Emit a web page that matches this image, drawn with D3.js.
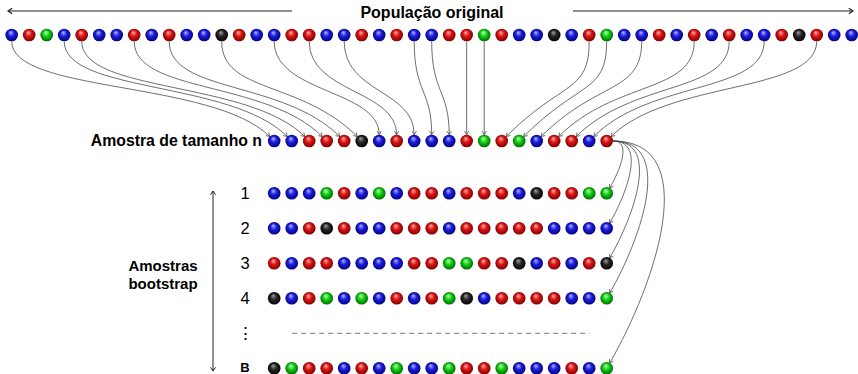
<!DOCTYPE html>
<html>
<head>
<meta charset="utf-8">
<script src="https://cdn.jsdelivr.net/npm/d3@7"></script>
<style>
  html, body { margin: 0; padding: 0; background: #fff; }
  svg { display: block; }
  text { font-family: "Liberation Sans", Arial, Helvetica, sans-serif; }
</style>
</head>
<body>
<svg id="chart" width="858" height="374"></svg>
<script>
// ---------- data ----------
const population = ["B","R","G","B","R","B","B","R","B","R","B","B","K","R","B","B","R","R","B","B",
                    "R","B","R","B","B","R","R","G","R","B","B","K","B","R","G","B","B","R","B","R",
                    "B","R","B","B","R","K","R","B","B"];
// indices into population drawn into the sample of size n
const sampleIdx = [0,3,4,7,9,12,15,17,19,23,24,26,27,33,34,36,39,41,43,46];
const bootRows = [
  ["B","B","B","G","R","B","G","B","R","R","B","R","R","R","B","K","R","R","G","G"],
  ["B","B","R","K","R","B","B","R","R","R","B","R","R","R","R","R","B","B","B","B"],
  ["R","B","R","R","B","B","B","B","R","R","G","G","R","R","K","B","R","B","R","K"],
  ["K","B","R","G","B","G","B","R","B","R","G","K","B","R","R","R","R","B","B","G"],
  null,
  ["K","G","R","R","B","R","B","G","B","B","G","R","R","G","B","B","B","R","B","G"]
];
const rowLabels = ["1","2","3","4","⋮","B"];
const titleTop = "População original";
const sampleLabel = "Amostra de tamanho n";
const bootLabel = ["Amostras", "bootstrap"];

// ---------- layout ----------
const svg = d3.select("#chart");
const R = 6.3;
const xCol = d3.scaleLinear().domain([0, population.length - 1]).range([11.7, 851.7]);
const sampleOffset = 15;           // sample column j sits at population column j+15
const yPop = 35, ySample = 141;
const yRow = d3.scaleLinear().domain([0, 5]).range([193.3, 368.3]);

const palette = {
  B: ["#b4b8ff", "#1c1ce0", "#00006e"],
  R: ["#ffb0b0", "#de1414", "#6e0000"],
  G: ["#c4ffc4", "#12d212", "#005a00"],
  K: ["#a0a0a0", "#262626", "#000000"]
};
const defs = svg.append("defs");
Object.entries(palette).forEach(([k, c]) => {
  const g = defs.append("radialGradient").attr("id", "ball-" + k)
    .attr("cx", "50%").attr("cy", "50%").attr("r", "55%")
    .attr("fx", "42%").attr("fy", "28%");
  g.append("stop").attr("offset", "0%").attr("stop-color", c[0]);
  g.append("stop").attr("offset", "45%").attr("stop-color", c[1]);
  g.append("stop").attr("offset", "100%").attr("stop-color", c[2]);
});

const lineCol = "#4a4a4a";
const curves = svg.append("g").attr("fill", "none").attr("stroke", lineCol).attr("stroke-width", 0.8);

function arrowHead(g, x, y, ang, len = 4.2, spread = 0.55) {
  const p = d3.path();
  p.moveTo(x - len * Math.cos(ang - spread), y - len * Math.sin(ang - spread));
  p.lineTo(x, y);
  p.lineTo(x - len * Math.cos(ang + spread), y - len * Math.sin(ang + spread));
  g.append("path").attr("d", p.toString());
}

// ---------- population -> sample curves ----------
sampleIdx.forEach((pi, j) => {
  const xs = xCol(pi), ys = yPop + R;
  const xt = xCol(j + sampleOffset);
  const dx = xt - xs;
  let dirx, diry;
  if (dx > 120) { dirx = Math.SQRT1_2; diry = Math.SQRT1_2; }
  else if (dx < -40) { dirx = -Math.SQRT1_2; diry = Math.SQRT1_2; }
  else { dirx = 0; diry = 1; }
  const ex = xt - dirx * R, ey = ySample - diry * R;
  const p = d3.path();
  p.moveTo(xs, ys);
  if (Math.abs(dx) < 1) {
    p.lineTo(ex, ey);
  } else {
    const c2 = diry === 1 ? 45 : 80;
    p.bezierCurveTo(xs, ys + 52, ex - dirx * c2, ey - diry * c2, ex, ey);
  }
  curves.append("path").attr("d", p.toString());
  arrowHead(curves, ex, ey, Math.atan2(diry, dirx));
});

// ---------- sample -> bootstrap curves ----------
const lastX = xCol(sampleIdx.length - 1 + sampleOffset);
bootRows.forEach((row, i) => {
  if (!row) return;
  const sx = lastX + R, sy = ySample;
  const ty = yRow(i);
  const inAng = 60 * Math.PI / 180;
  const ex = lastX + R * Math.cos(inAng) * 0.95, ey = ty - R * Math.sin(inAng) * 0.95;
  const d = Math.hypot(ex - sx, ey - sy);
  const c = 0.41 * d;
  const p = d3.path();
  p.moveTo(sx, sy);
  p.bezierCurveTo(sx + c, sy, ex + c * Math.cos(inAng), ey - c * Math.sin(inAng), ex, ey);
  curves.append("path").attr("d", p.toString());
  arrowHead(curves, ex, ey, Math.atan2(Math.sin(inAng), -Math.cos(inAng)));
});

// ---------- balls ----------
function drawBalls(colors, xFn, y) {
  svg.append("g").selectAll("circle").data(colors).join("circle")
    .attr("cx", (d, i) => xFn(i)).attr("cy", y).attr("r", R)
    .attr("fill", d => `url(#ball-${d})`);
}
drawBalls(population, i => xCol(i), yPop);
drawBalls(sampleIdx.map(i => population[i]), i => xCol(i + sampleOffset), ySample);
bootRows.forEach((row, i) => {
  if (row) drawBalls(row, j => xCol(j + sampleOffset), yRow(i));
});

// dashed line for the omitted rows
svg.append("line")
  .attr("x1", xCol(sampleOffset) + 18).attr("x2", xCol(sampleOffset + 19) - 17)
  .attr("y1", yRow(4)).attr("y2", yRow(4))
  .attr("stroke", "#777").attr("stroke-width", 1).attr("stroke-dasharray", "5,4");

// ---------- text & arrows ----------
const titleG = svg.append("g");
titleG.append("text").attr("x", 432).attr("y", 18).attr("text-anchor", "middle")
  .attr("font-weight", "bold").attr("font-size", 16).text(titleTop);
const topArrows = svg.append("g").attr("fill", "none").attr("stroke", "#222").attr("stroke-width", 1.2);
topArrows.append("line").attr("x1", 292).attr("x2", 8).attr("y1", 11).attr("y2", 11);
arrowHead(topArrows, 8, 11, Math.PI, 5, 0.6);
topArrows.append("line").attr("x1", 573).attr("x2", 853).attr("y1", 11).attr("y2", 11);
arrowHead(topArrows, 853, 11, 0, 5, 0.6);

svg.append("text").attr("x", 262).attr("y", 146).attr("text-anchor", "end")
  .attr("font-weight", "bold").attr("font-size", 15.8).text(sampleLabel);

svg.append("g").selectAll("text").data(bootLabel).join("text")
  .attr("x", 163).attr("y", (d, i) => 270.5 + i * 18).attr("text-anchor", "middle")
  .attr("font-weight", "bold").attr("font-size", 15).text(d => d);

svg.append("g").selectAll("text").data(rowLabels).join("text")
  .attr("x", 245).attr("y", (d, i) => d === "B" ? 372 : yRow(i) + 6)
  .attr("text-anchor", "middle")
  .attr("font-weight", d => d === "B" ? "bold" : "normal")
  .attr("font-size", d => d === "B" ? 13 : 16.5)
  .attr("font-family", d => d === "B" ? null : "'DejaVu Sans', sans-serif")
  .text(d => d);

const vArrow = svg.append("g").attr("fill", "none").attr("stroke", "#222").attr("stroke-width", 1);
vArrow.append("line").attr("x1", 213).attr("x2", 213).attr("y1", 191).attr("y2", 371);
arrowHead(vArrow, 213, 191, -Math.PI / 2, 4.5, 0.6);
arrowHead(vArrow, 213, 371, Math.PI / 2, 4.5, 0.6);
</script>
</body>
</html>
